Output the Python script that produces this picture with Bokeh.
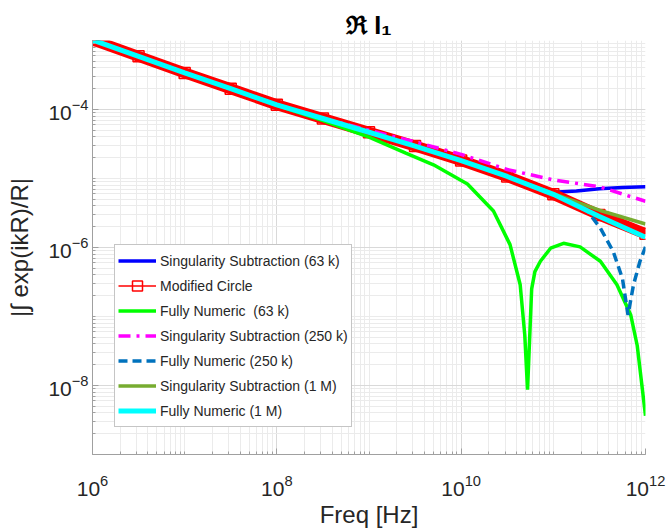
from bokeh.plotting import figure
from bokeh.models import Range1d, FixedTicker, Legend, LegendItem
from bokeh.embed import file_html
from bokeh.resources import INLINE

# ---------------- data ----------------
freq_mc = [1e6, 3.16e6, 1e7, 3.16e7, 1e8, 3.16e8, 1e9, 3.16e9, 1e10, 3.16e10, 1e11, 3.16e11, 1e12]
val_mc = [1.02e-3, 5.89e-4, 3.39e-4, 2.00e-4, 1.17e-4, 7.41e-5, 4.68e-5, 2.95e-5, 1.82e-5, 1.07e-5, 5.89e-6, 2.95e-6, 1.58e-6]

freq_fn1m = [1e6, 3.16e6, 1e7, 3.16e7, 1e8, 3.16e8, 1e9, 3.16e9, 1e10, 3.16e10, 1e11, 3.16e11, 1e12]
val_fn1m = [1.02e-3, 5.89e-4, 3.39e-4, 2.00e-4, 1.17e-4, 7.41e-5, 4.68e-5, 2.95e-5, 1.82e-5, 1.07e-5, 5.89e-6, 2.82e-6, 1.41e-6]

freq_ss1m = [1e6, 3.16e6, 1e7, 3.16e7, 1e8, 3.16e8, 1e9, 3.16e9, 1e10, 3.16e10, 1e11, 3.16e11, 1e12]
val_ss1m = [1.02e-3, 5.89e-4, 3.39e-4, 2.00e-4, 1.17e-4, 7.41e-5, 4.68e-5, 2.95e-5, 1.82e-5, 1.07e-5, 6.03e-6, 3.47e-6, 2.19e-6]

freq_ss63 = [1e6, 3.16e6, 1e7, 3.16e7, 1e8, 3.16e8, 1e9, 3.16e9, 1e10, 3.16e10, 5.62e10, 1e11, 1.78e11, 3.16e11, 5.62e11, 1e12]
val_ss63 = [1.02e-3, 5.89e-4, 3.39e-4, 2.00e-4, 1.17e-4, 7.41e-5, 4.68e-5, 2.95e-5, 1.82e-5, 1.07e-5, 7.94e-6, 6.31e-6, 6.61e-6, 7.08e-6, 7.41e-6, 7.59e-6]

freq_ss250 = [1e6, 3.16e6, 1e7, 3.16e7, 1e8, 3.16e8, 1e9, 3.16e9, 1e10, 3.16e10, 1e11, 3.16e11, 1e12]
val_ss250 = [1.02e-3, 5.89e-4, 3.39e-4, 2.00e-4, 1.17e-4, 7.41e-5, 5.01e-5, 3.39e-5, 2.24e-5, 1.35e-5, 9.55e-6, 7.59e-6, 4.68e-6]

freq_fn250 = [1e6, 3.16e6, 1e7, 3.16e7, 1e8, 3.16e8, 1e9, 3.16e9, 1e10, 3.16e10, 1e11, 1.78e11, 2.34e11, 3.24e11, 4.47e11, 5.62e11, 6.46e11, 7.41e11, 8.71e11, 1e12]
val_fn250 = [1.02e-3, 5.89e-4, 3.39e-4, 2.00e-4, 1.17e-4, 7.41e-5, 4.68e-5, 2.95e-5, 1.82e-5, 1.07e-5, 5.89e-6, 4.27e-6, 3.39e-6, 1.91e-6, 8.71e-7, 3.55e-7, 1.05e-7, 2.88e-7, 6.31e-7, 1.02e-6]

freq_fn63 = [1e6, 3.16e6, 1e7, 3.16e7, 1e8, 3.16e8, 1e9, 2.51e9, 5.01e9, 1.17e10, 2.24e10, 3.39e10, 4.37e10, 4.90e10, 5.25e10, 5.82e10, 6.31e10, 7.24e10, 9.33e10, 1.29e11, 1.95e11, 3.24e11, 4.90e11, 6.92e11, 8.13e11, 1e12]
val_fn63 = [1.02e-3, 5.89e-4, 3.39e-4, 2.00e-4, 1.15e-4, 6.92e-5, 3.98e-5, 2.34e-5, 1.58e-5, 8.32e-6, 3.39e-6, 1.10e-6, 2.88e-7, 5.37e-8, 8.71e-9, 2.51e-7, 4.47e-7, 6.31e-7, 9.77e-7, 1.15e-6, 1.02e-6, 6.31e-7, 2.88e-7, 1.05e-7, 3.80e-8, 3.63e-9]

labels = ["Singularity Subtraction (63 k)", "Modified Circle", "Fully Numeric  (63 k)",
          "Singularity Subtraction (250 k)", "Fully Numeric (250 k)",
          "Singularity Subtraction (1 M)", "Fully Numeric (1 M)"]

x_major = [1e6, 1e8, 1e10, 1e12]
y_major = [1e-8, 1e-6, 1e-4]
x_minor = [k * 10.0 ** n for n in range(6, 12) for k in range(1, 10)] + [1e12]
y_minor = [k * 10.0 ** n for n in range(-9, -3) for k in range(1, 10)] + [1e-3]

FONT = "Liberation Sans"
TXT = "#262626"

p = figure(width=666, height=531, x_axis_type="log", y_axis_type="log",
           x_range=Range1d(1e6, 1e12), y_range=Range1d(1e-9, 1e-3),
           output_backend="svg", toolbar_location=None,
           min_border_left=92, min_border_right=21, min_border_top=40, min_border_bottom=77)
p.outline_line_color = None
p.background_fill_color = "white"

p.title.text = "\u211c I\u2081"
p.title.text_font = FONT
p.title.text_font_size = "25px"
p.title.text_font_style = "bold"
p.title.text_color = "black"
p.title.align = "center"
p.title.standoff = 4

p.xaxis.ticker = FixedTicker(ticks=x_major, minor_ticks=x_minor)
p.yaxis.ticker = FixedTicker(ticks=y_major, minor_ticks=y_minor)

for ax in (p.xaxis[0], p.yaxis[0]):
    ax.axis_line_color = "#a0a0a0"
    ax.major_tick_line_color = "#a0a0a0"
    ax.minor_tick_line_color = "#a0a0a0"
    ax.major_tick_in = 6
    ax.major_tick_out = 0
    ax.minor_tick_in = 3
    ax.minor_tick_out = 0
    ax.major_label_text_font = FONT
    ax.major_label_text_font_size = "21px"
    ax.major_label_text_color = TXT
    ax.axis_label_text_font = FONT
    ax.axis_label_text_font_size = "24px"
    ax.axis_label_text_font_style = "normal"
    ax.axis_label_text_color = TXT

p.xaxis.axis_label = "Freq [Hz]"
p.yaxis.axis_label = "|\u222b exp(ikR)/R|"
p.xaxis.major_label_standoff = 20
p.xaxis.axis_label_standoff = 2
p.yaxis.major_label_standoff = 4
p.yaxis.axis_label_standoff = 12

for g in (p.xgrid[0], p.ygrid[0]):
    g.grid_line_color = "#d9d9d9"
    g.minor_grid_line_color = "#ebebeb"

LW = 3.5
r_ss63 = p.line(freq_ss63, val_ss63, line_color="#0000FF", line_width=LW)
# modified circle: dense hollow squares, drawn as a red band
p.line(freq_mc, val_mc, line_color="#FF0000", line_width=11)
r_mc_line = p.line(freq_mc, val_mc, line_color="#FF0000", line_width=1.5)
r_mc_mark = p.scatter(freq_mc, val_mc, marker="square", size=11, line_color="#FF0000",
                      fill_color=None, line_width=1.5)
r_fn63 = p.line(freq_fn63, val_fn63, line_color="#00FF00", line_width=LW)
r_ss250 = p.line(freq_ss250, val_ss250, line_color="#FF00FF", line_width=LW, line_dash="12 6 3 6")
r_fn250 = p.line(freq_fn250, val_fn250, line_color="#0072BD", line_width=LW, line_dash="9 5")
r_ss1m = p.line(freq_ss1m, val_ss1m, line_color="#77AC30", line_width=LW)
r_fn1m = p.line(freq_fn1m, val_fn1m, line_color="#00FFFF", line_width=5)

items = [
    LegendItem(label=labels[0], renderers=[r_ss63]),
    LegendItem(label=labels[1], renderers=[r_mc_line, r_mc_mark]),
    LegendItem(label=labels[2], renderers=[r_fn63]),
    LegendItem(label=labels[3], renderers=[r_ss250]),
    LegendItem(label=labels[4], renderers=[r_fn250]),
    LegendItem(label=labels[5], renderers=[r_ss1m]),
    LegendItem(label=labels[6], renderers=[r_fn1m]),
]
legend = Legend(items=items, location=(22, 27))
legend.label_text_font = FONT
legend.label_text_font_size = "14px"
legend.label_text_color = TXT
legend.glyph_width = 38
legend.glyph_height = 25
legend.label_height = 25
legend.label_standoff = 4
legend.spacing = 0
legend.padding = 3
legend.margin = 0
legend.border_line_color = "#8c8c8c"
legend.border_line_width = 1
legend.background_fill_alpha = 1.0
p.add_layout(legend)

open("out.html", "w").write(file_html(p, INLINE))
